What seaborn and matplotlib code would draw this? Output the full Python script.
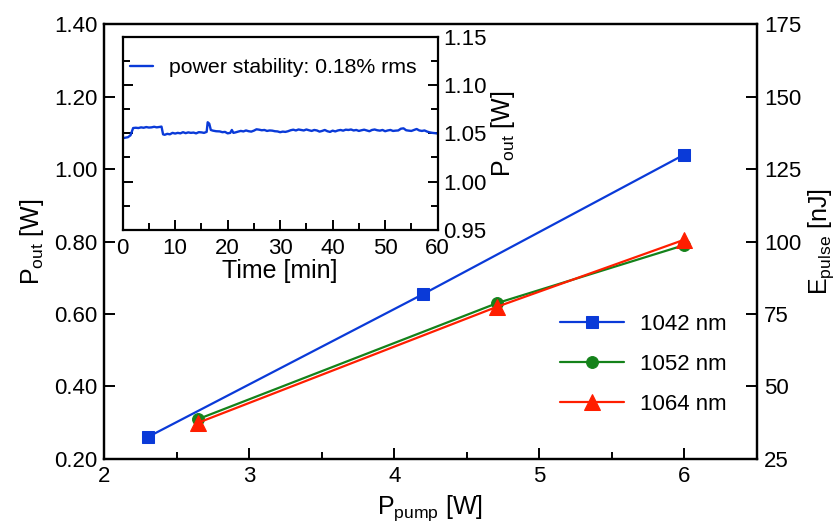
import numpy as np
import pandas as pd
import matplotlib
matplotlib.use("Agg")
import matplotlib.pyplot as plt
import seaborn as sns
from matplotlib.ticker import MultipleLocator, FormatStrFormatter

# ---- main data ----
pump_1042 = [2.30, 4.20, 6.00]
pout_1042 = [0.26, 0.655, 1.04]
pump_1052 = [2.65, 4.71, 6.00]
pout_1052 = [0.31, 0.63, 0.79]
pump_1064 = [2.65, 4.71, 6.00]
pout_1064 = [0.30, 0.62, 0.805]
labels = ["1042 nm", "1052 nm", "1064 nm"]

# ---- inset data (time in min, Pout in W) ----
time_min = [0, 0.5, 1.0, 1.5, 2.0, 2.5, 3, 3.5, 4, 4.5, 5, 5.5, 6, 6.5, 7, 7.4, 7.7, 8,
            8.5, 9, 9.5, 10, 10.5, 11, 11.5, 12, 12.5, 13, 13.5, 14, 14.5, 15, 15.5, 16,
            16.2, 16.5, 16.8, 17.2, 17.8, 18.5, 19, 19.5, 20, 20.5, 20.8, 21.1, 21.5, 22,
            22.5, 23, 23.5, 24, 24.5, 25, 25.5, 26, 26.5, 27, 27.5, 28, 28.5, 29, 29.5,
            30, 30.5, 31, 31.5, 32, 32.5, 33, 33.5, 34, 34.5, 35, 35.5, 36, 36.5, 37,
            37.5, 38, 38.5, 39, 39.5, 40, 40.5, 41, 41.5, 42, 42.5, 43, 43.5, 44, 44.5,
            45, 45.5, 46, 46.5, 47, 47.5, 48, 48.5, 49, 49.5, 50, 50.5, 51, 51.5, 52,
            52.5, 53, 53.5, 54, 54.5, 55, 55.5, 56, 56.5, 57, 57.5, 58, 58.5, 59, 59.5, 60]
power_w = [1.045, 1.0455, 1.046, 1.048, 1.0555, 1.0558, 1.0555, 1.0562, 1.0558, 1.0565,
           1.056, 1.0562, 1.0568, 1.0562, 1.0566, 1.057, 1.049, 1.0485, 1.0495, 1.049,
           1.0505, 1.0498, 1.0505, 1.050, 1.0512, 1.0502, 1.051, 1.0505, 1.0508, 1.050,
           1.0512, 1.051, 1.0505, 1.0515, 1.0615, 1.060, 1.0535, 1.0528, 1.0522, 1.052,
           1.0512, 1.0515, 1.050, 1.0505, 1.0535, 1.0505, 1.051, 1.0518, 1.0525, 1.052,
           1.053, 1.0522, 1.0518, 1.0528, 1.0542, 1.0538, 1.0532, 1.0535, 1.0525, 1.053,
           1.0528, 1.0522, 1.052, 1.0512, 1.0518, 1.0515, 1.0522, 1.0532, 1.0538, 1.053,
           1.054, 1.0535, 1.053, 1.054, 1.0532, 1.0525, 1.0535, 1.053, 1.0518, 1.0525,
           1.0535, 1.0522, 1.0515, 1.0528, 1.052, 1.053, 1.0535, 1.0528, 1.0538, 1.0535,
           1.054, 1.053, 1.0535, 1.0525, 1.0532, 1.0538, 1.053, 1.0522, 1.0535, 1.054,
           1.0532, 1.0528, 1.0535, 1.0522, 1.053, 1.0535, 1.0525, 1.0528, 1.053, 1.0548,
           1.0552, 1.0532, 1.0528, 1.0525, 1.0535, 1.0545, 1.053, 1.0525, 1.053, 1.0518,
           1.051, 1.0505, 1.0502, 1.0498]
inset_label = "power stability: 0.18% rms"

sns.set_theme(style="ticks")
plt.rcParams["font.family"] = ["Liberation Sans", "DejaVu Sans"]
plt.rcParams["mathtext.fontset"] = "custom"
plt.rcParams["mathtext.rm"] = "Liberation Sans"
plt.rcParams["mathtext.default"] = "regular"
plt.rcParams["axes.linewidth"] = 1.6
plt.rcParams["axes.edgecolor"] = "black"
plt.rcParams["text.color"] = "black"
plt.rcParams["axes.labelcolor"] = "black"
plt.rcParams["xtick.color"] = "black"
plt.rcParams["ytick.color"] = "black"

BLUE = "#0a3ad8"
GREEN = "#14821a"
RED = "#ff1e00"

fig = plt.figure(figsize=(8.4, 5.25), dpi=100)
ax = fig.add_axes([0.124, 0.126, 0.777, 0.828])

series = [
    (pump_1042, pout_1042, labels[0], BLUE, "s", 8),
    (pump_1052, pout_1052, labels[1], GREEN, "o", 8.5),
    (pump_1064, pout_1064, labels[2], RED, "^", 11),
]
for xs, ys, lab, col, mk, ms in series:
    df = pd.DataFrame({"pump": xs, "pout": ys})
    sns.lineplot(data=df, x="pump", y="pout", ax=ax, color=col, marker=mk,
                 markersize=ms, markeredgecolor=col, linewidth=1.6, label=lab,
                 sort=False)

ax.set_xlim(2, 6.5)
ax.set_ylim(0.2, 1.4)
ax.xaxis.set_major_locator(MultipleLocator(1))
ax.xaxis.set_minor_locator(MultipleLocator(0.5))
ax.yaxis.set_major_locator(MultipleLocator(0.2))
ax.yaxis.set_major_formatter(FormatStrFormatter("%.2f"))
ax.tick_params(axis="both", which="major", direction="in", length=8, width=1.4,
               labelsize=16, colors="black", pad=5)
ax.tick_params(axis="x", which="minor", direction="in", length=5, width=1.4)
ax.tick_params(top=False, right=False, which="both")
ax.set_xlabel(r"P$_{pump}$ [W]", fontsize=18, labelpad=5)
ax.set_ylabel(r"P$_{out}$ [W]", fontsize=18, labelpad=6)

ax2 = ax.twinx()
ax2.set_ylim(25, 175)
ax2.yaxis.set_major_locator(MultipleLocator(25))
ax2.tick_params(axis="y", direction="in", length=8, width=1.4, labelsize=16, pad=5,
                colors="black")
ax2.set_ylabel(r"E$_{pulse}$ [nJ]", fontsize=18, labelpad=4)

leg = ax.legend(loc="upper left", bbox_to_anchor=(560 / 840, 1 - 314 / 525),
                bbox_transform=fig.transFigure, frameon=False, fontsize=16,
                handlelength=2.9, handletextpad=0.7, labelspacing=0.86,
                borderpad=0, borderaxespad=0)

# ---- inset ----
axi = fig.add_axes([0.146, 0.562, 0.375, 0.368])
dfi = pd.DataFrame({"t": time_min, "p": power_w})
sns.lineplot(data=dfi, x="t", y="p", ax=axi, color=BLUE, linewidth=1.7,
             label=inset_label, sort=False)
axi.set_xlim(0, 60)
axi.set_ylim(0.95, 1.15)
axi.xaxis.set_major_locator(MultipleLocator(10))
axi.xaxis.set_minor_locator(MultipleLocator(5))
axi.yaxis.set_major_locator(MultipleLocator(0.05))
axi.yaxis.set_minor_locator(MultipleLocator(0.025))
axi.yaxis.set_major_formatter(FormatStrFormatter("%.2f"))
axi.yaxis.tick_right()
axi.yaxis.set_label_position("right")
axi.tick_params(axis="both", which="major", direction="in", length=7, width=1.4,
                labelsize=16, left=True, right=True, labelleft=False,
                labelright=True)
axi.tick_params(axis="x", which="major", pad=6)
axi.tick_params(axis="y", which="major", pad=4)
axi.tick_params(axis="both", which="minor", direction="in", length=5, width=1.4,
                left=True, right=True)
axi.set_xlabel("Time [min]", fontsize=18, labelpad=0)
axi.set_ylabel(r"P$_{out}$ [W]", fontsize=18, labelpad=2)
axi.legend(loc="center left", bbox_to_anchor=(0.022, 0.84), frameon=False,
           fontsize=15.3, handlelength=1.1, handletextpad=0.75, borderpad=0,
           borderaxespad=0)

fig.savefig("out.png", dpi=100)
